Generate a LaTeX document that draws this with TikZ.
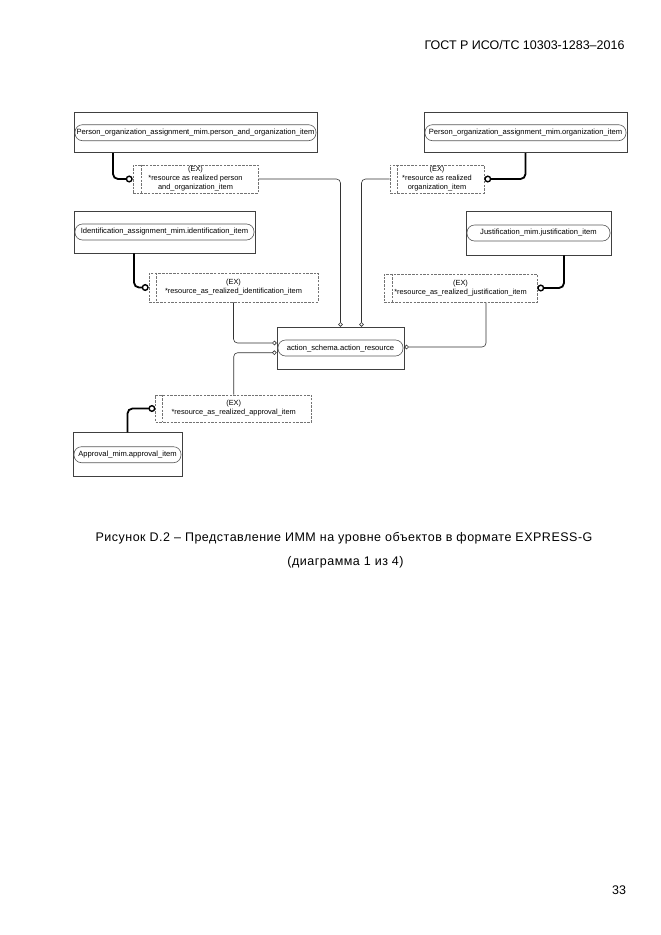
\documentclass[tikz,border=0pt]{standalone}
\usepackage{fontspec}
\setmainfont{Liberation Sans}
\usetikzlibrary{arrows.meta}

\begin{document}
\begin{tikzpicture}[x=1pt,y=-1pt,font=\fontsize{7.6}{9}\selectfont]
  \tikzset{
    entity/.style={draw=black!75,line width=0.7pt},
    pill/.style={draw=black!65,line width=0.6pt,rounded corners=7.5pt,minimum height=16pt,inner xsep=0.5pt,inner ysep=1pt},
    exbox/.style={draw=black!55,dash pattern=on 2.5pt off 1.2pt,line width=0.6pt,align=center,inner sep=1pt,font=\fontsize{7.4}{9}\selectfont},
    partline/.style={draw=black!55,dash pattern=on 2.5pt off 1.2pt,line width=0.6pt},
    rel/.style={draw=black!80,line width=0.6pt,rounded corners=4pt,-{Circle[open,length=4.5pt,width=4.5pt]}},
    sel/.style={draw=black,line width=1.8pt,rounded corners=5pt,-{Circle[open,length=7pt,width=7pt,line width=1.4pt]}},
    pagetext/.style={font=\fontsize{12.5}{15}\selectfont},
    captext/.style={font=\fontsize{12.5}{15}\selectfont\addfontfeature{LetterSpace=4}}
  }
  \useasboundingbox (0,0) rectangle (661,935);

  % Page header and page number.
  \node[pagetext,anchor=east] (hdr) at (628,45) {ГОСТ Р ИСО/ТС 10303-1283–2016};
  \node[pagetext] (pgno) at (619,890) {33};

  % Central entity.
  \node[entity,minimum width=127pt,minimum height=42pt] (actbox) at (340.5,348) {};
  \node[pill,minimum width=125pt] (act) at (actbox.center) {action\_schema.action\_resource};

  % Top row: person and organization selects.
  \node[entity,minimum width=243pt,minimum height=40pt] (porgbox) at (195.5,132.7) {};
  \node[pill,minimum width=241pt] (porg) at (porgbox.center) {Person\_organization\_assignment\_mim.person\_and\_organization\_item};
  \node[exbox,minimum width=125pt,minimum height=28pt] (exporg) at (195.5,179) {(EX)\\*resource as realized person\\and\_organization\_item};
  \draw[partline] ([xshift=9pt]exporg.north west) -- ([xshift=9pt]exporg.south west);

  \node[entity,minimum width=203pt,minimum height=40pt] (orgbox) at (525.5,132.7) {};
  \node[pill,minimum width=201pt] (org) at (orgbox.center) {Person\_organization\_assignment\_mim.organization\_item};
  \node[exbox,minimum width=94pt,minimum height=28pt] (exorg) at (437,179) {(EX)\\*resource as realized\\organization\_item};
  \draw[partline] ([xshift=8pt]exorg.north west) -- ([xshift=8pt]exorg.south west);

  % Middle row: identification and justification selects.
  \node[entity,minimum width=181pt,minimum height=42pt] (identbox) at (164.5,232) {};
  \node[pill,minimum width=179pt] (ident) at (identbox.center) {Identification\_assignment\_mim.identification\_item};
  \node[exbox,minimum width=169pt,minimum height=29pt] (exident) at (233.5,287.5) {(EX)\\*resource\_as\_realized\_identification\_item};
  \draw[partline] ([xshift=8pt]exident.north west) -- ([xshift=8pt]exident.south west);

  \node[entity,minimum width=145pt,minimum height=44pt] (justbox) at (538.5,233) {};
  \node[pill,minimum width=143pt] (just) at (justbox.center) {Justification\_mim.justification\_item};
  \node[exbox,minimum width=153pt,minimum height=28pt] (exjust) at (460.5,288) {(EX)\\*resource\_as\_realized\_justification\_item};
  \draw[partline] ([xshift=9pt]exjust.north west) -- ([xshift=9pt]exjust.south west);

  % Bottom: approval select.
  \node[exbox,minimum width=156pt,minimum height=27pt] (exappr) at (233.7,408.5) {(EX)\\*resource\_as\_realized\_approval\_item};
  \draw[partline] ([xshift=7pt]exappr.north west) -- ([xshift=7pt]exappr.south west);
  \node[entity,minimum width=109pt,minimum height=44pt] (apprbox) at (127.5,454.7) {};
  \node[pill,minimum width=107pt] (appr) at (apprbox.center) {Approval\_mim.approval\_item};

  % Select extensions (thick) and relations to action_resource (thin).
  \draw[sel] ([xshift=-82.5pt]porgbox.south) |- (exporg.west);
  \draw[sel] (orgbox.south) |- (exorg.east);
  \draw[sel] ([xshift=-30.5pt]identbox.south) |- (exident.west);
  \draw[sel] ([xshift=25.5pt]justbox.south) |- (exjust.east);
  \draw[sel] (apprbox.north) |- (exappr.west);

  \draw[rel] (exporg.east) -| (actbox.north);
  \draw[rel] (exorg.west) -| ([xshift=21pt]actbox.north);
  \draw[rel] (exident.south) |- ([yshift=5pt]actbox.west);
  \draw[rel] (exappr.north) |- ([yshift=-4.7pt]actbox.west);
  \draw[rel] ([xshift=25.5pt]exjust.south) |- ([yshift=1pt]actbox.east);

  % Caption.
  \node[captext] (cap1) at (344,538) {Рисунок D.2 – Представление ИММ на уровне объектов в формате EXPRESS-G};
  \node[captext] (cap2) at (345.5,562) {(диаграмма 1 из 4)};
\end{tikzpicture}
\end{document}
